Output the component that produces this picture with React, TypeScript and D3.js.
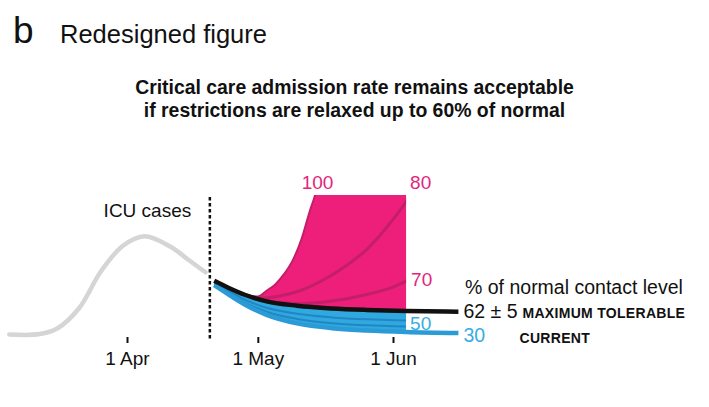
import { useEffect, useRef } from 'react'
import * as d3 from 'd3'

const parse = d3.utcParse('%Y-%m-%d')

// axis
const tickDates = ['2020-04-01', '2020-05-01', '2020-06-01']

// observed ICU cases (grey)
const historyDates = ['2020-03-05', '2020-03-12', '2020-03-16', '2020-03-21', '2020-03-26', '2020-03-31', '2020-04-05', '2020-04-11', '2020-04-15', '2020-04-19']
const historyValues = [7, 7.3, 11, 24.5, 49, 66, 72.5, 65.5, 57, 48.5]

const lockdownEnd = '2020-04-20'

// projections, shared dates
const projDates = ['2020-04-21', '2020-04-24', '2020-04-28', '2020-05-03', '2020-05-10', '2020-05-18', '2020-05-26', '2020-06-04', '2020-06-16']
const contact62 = [42.8, 38.5, 33.5, 29.1, 26.2, 24.4, 23.4, 22.7, 22.2]
const contact50 = [41.3, 36.5, 30.3, 24.8, 20.8, 18.4, 17.1, 16.3]
const contact40 = [40.3, 35, 28.3, 22.2, 17.4, 14.5, 13.1, 12.3]
const contact30 = [40, 34.3, 27, 20.1, 14.4, 11.2, 9.7, 8.7, 8]

const dates100 = ['2020-04-28', '2020-05-01', '2020-05-03', '2020-05-05', '2020-05-07', '2020-05-09', '2020-05-11', '2020-05-13', '2020-05-14', '2020-05-16']
const contact100 = [33.5, 32.3, 36.2, 40.4, 47.2, 56.4, 70.5, 90, 98.7, 125]
const dates80 = ['2020-04-28', '2020-05-01', '2020-05-06', '2020-05-11', '2020-05-16', '2020-05-21', '2020-05-26', '2020-05-31', '2020-06-04', '2020-06-06']
const contact80 = [33.5, 31.2, 32.7, 36.5, 43.3, 52.3, 63.8, 80, 95.5, 105]
const dates70 = ['2020-04-28', '2020-05-03', '2020-05-10', '2020-05-18', '2020-05-26', '2020-06-01', '2020-06-04', '2020-06-06']
const contact70 = [33.5, 29.5, 27.5, 29.3, 33.7, 38.6, 42.5, 44.5]

const relaxStart = '2020-04-28'
const relaxCut = '2020-06-04'

const W = 709
const H = 407
const FONT = '"Liberation Sans", Arial, Helvetica, sans-serif'

const PINK = '#ee1f7a'
const PINK_DARK = '#c21f68'
const PINK_TEXT = '#e2267c'
const BLUE = '#30a9e1'
const BLUE_DARK = '#2186c2'
const BLUE_LINE = '#2a9bd6'
const BLUE_TEXT = '#38ade2'

type Pt = [Date, number]
const zip = (ds: string[], vs: number[]): Pt[] => vs.map((v, i) => [parse(ds[i]) as Date, v])

export default function App() {
  const axisRef = useRef<SVGGElement>(null)

  const x = d3.scaleUtc()
    .domain([parse('2020-04-01') as Date, parse('2020-06-01') as Date])
    .range([127, 393])
  const y = d3.scaleLinear().domain([0, 100]).range([345, 195])

  const line = d3.line<Pt>().x(d => x(d[0])).y(d => y(d[1])).curve(d3.curveMonotoneX)
  const smooth = d3.line<Pt>().x(d => x(d[0])).y(d => y(d[1])).curve(d3.curveCatmullRom.alpha(0.5))

  const history = zip(historyDates, historyValues)
  const l62 = zip(projDates, contact62)
  const l50 = zip(projDates, contact50)
  const l40 = zip(projDates, contact40)
  const l30 = zip(projDates, contact30)
  const l100 = zip(dates100, contact100)
  const l80 = zip(dates80, contact80)
  const l70 = zip(dates70, contact70)

  const band = d3.area<number>()
    .x(i => x(parse(projDates[i]) as Date))
    .y0(i => y(contact30[i]))
    .y1(i => y(contact62[i]))
    .curve(d3.curveMonotoneX)

  const startD = parse(relaxStart) as Date
  const cutD = parse(relaxCut) as Date
  const xStart = x(startD)
  const xCut = x(cutD)
  const xEnd = x(parse(projDates[projDates.length - 1]) as Date)

  // pink region: 100% curve up, across the top, back along the 62% line
  const last100 = l100[l100.length - 1]
  const back = l62.filter(d => d[0] >= startD).reverse()
  const pinkPath = (line(l100) || '') +
    `L${x(d3.utcDay.offset(cutD, 3))},${y(last100[1])}` +
    (line(back) || '').replace(/^M/, 'L') + 'Z'

  const xLock = x(parse(lockdownEnd) as Date)

  useEffect(() => {
    if (!axisRef.current) return
    const g = d3.select(axisRef.current)
    g.selectAll('*').remove()
    g.call(
      d3.axisBottom(x)
        .tickValues(tickDates.map(d => parse(d) as Date))
        .tickFormat(d => d3.utcFormat('%-d %b')(d as Date))
        .tickSize(6)
        .tickPadding(9)
    )
    g.select('.domain').remove()
    g.selectAll('.tick line').attr('stroke', '#111').attr('stroke-width', 2)
    g.selectAll('.tick text')
      .attr('fill', '#111')
      .style('font-family', FONT)
      .style('font-size', '19px')
  }, [])

  return (
    <svg width={W} height={H} style={{ position: 'absolute', left: 0, top: 0, background: '#fff' }} fontFamily={FONT}>
      <defs>
        <clipPath id="pink-clip">
          <rect x={xStart} y={y(100)} width={xCut - xStart} height={y(0) - y(100)} />
        </clipPath>
        <clipPath id="band-clip">
          <rect x={0} y={0} width={xCut} height={H} />
        </clipPath>
      </defs>

      <text x={13} y={43} fontSize={37} fill="#111">b</text>
      <text x={60} y={43} fontSize={25.5} fill="#111">Redesigned figure</text>

      <text x={354.5} y={94} fontSize={19.4} fontWeight="bold" textAnchor="middle" fill="#111">
        Critical care admission rate remains acceptable
      </text>
      <text x={354.5} y={117} fontSize={19.4} fontWeight="bold" textAnchor="middle" fill="#111">
        if restrictions are relaxed up to 60% of normal
      </text>

      <path d={smooth(history) || ''} fill="none" stroke="#d5d5d5" strokeWidth={4.5} strokeLinecap="round" />
      <text x={x(history[6][0]) + 3} y={217} fontSize={19} textAnchor="middle" fill="#111">ICU cases</text>

      <line x1={xLock} x2={xLock} y1={197} y2={339} stroke="#111" strokeWidth={2.5} strokeDasharray="3.5,2.5" />

      <g clipPath="url(#pink-clip)">
        <path d={pinkPath} fill={PINK} />
        <path d={line(l100) || ''} fill="none" stroke={PINK_DARK} strokeWidth={2} />
        <path d={line(l80) || ''} fill="none" stroke={PINK_DARK} strokeWidth={3} />
        <path d={line(l70) || ''} fill="none" stroke={PINK_DARK} strokeWidth={3} />
      </g>

      <g clipPath="url(#band-clip)">
        <path d={band(d3.range(projDates.length)) || ''} fill={BLUE} />
      </g>
      <path d={line(l50) || ''} fill="none" stroke={BLUE_DARK} strokeWidth={2} />
      <path d={line(l40) || ''} fill="none" stroke={BLUE_DARK} strokeWidth={2} />
      <path d={line(l30) || ''} fill="none" stroke={BLUE_LINE} strokeWidth={4.5} />
      <path d={line(l62) || ''} fill="none" stroke="#111" strokeWidth={4.5} />

      <g ref={axisRef} transform={`translate(0,337)`} />

      <text x={x(l100[8][0]) + 3} y={189} fontSize={19} textAnchor="middle" fill={PINK_TEXT}>100</text>
      <text x={xCut + 4} y={189} fontSize={19} fill={PINK_TEXT}>80</text>
      <text x={xCut + 5} y={286} fontSize={19} fill={PINK_TEXT}>70</text>
      <text x={xCut + 4} y={330} fontSize={19} fill={BLUE_TEXT}>50</text>

      <text x={465} y={294} fontSize={19.5} fill="#111">% of normal contact level</text>
      <text x={xEnd + 5} y={318} fontSize={19.5} fill="#111">62 ± 5</text>
      <text x={522.5} y={318} fontSize={14} fontWeight="bold" letterSpacing={0.3} fill="#111">MAXIMUM TOLERABLE</text>
      <text x={xEnd + 5} y={342} fontSize={19.5} fill={BLUE_TEXT}>30</text>
      <text x={519.5} y={343} fontSize={14} fontWeight="bold" letterSpacing={0.3} fill="#111">CURRENT</text>
    </svg>
  )
}
